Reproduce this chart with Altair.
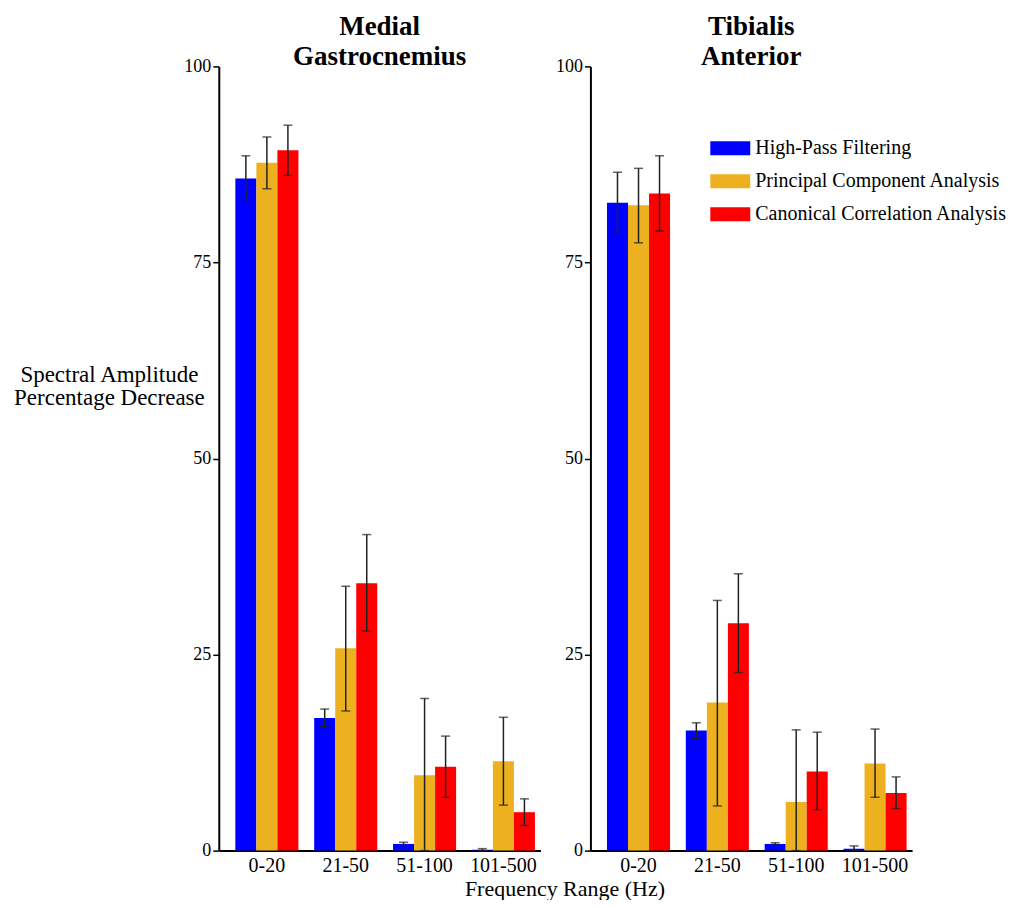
import altair as alt
import pandas as pd

categories = ["0-20", "21-50", "51-100", "101-500"]
methods = ["High-Pass Filtering", "Principal Component Analysis", "Canonical Correlation Analysis"]
colors = ["#0000FF", "#EDB120", "#FF0000"]

# Medial Gastrocnemius
mg_hpf = [85.7, 16.9, 0.85, 0.1]
mg_hpf_lo = [83.0, 15.8, 0.68, 0.0]
mg_hpf_hi = [88.6, 18.05, 1.06, 0.25]
mg_pca = [87.7, 25.8, 9.6, 11.4]
mg_pca_lo = [84.4, 17.8, 0.0, 5.8]
mg_pca_hi = [91.0, 33.7, 19.4, 17.0]
mg_cca = [89.3, 34.1, 10.7, 4.9]
mg_cca_lo = [86.1, 28.0, 6.8, 3.2]
mg_cca_hi = [92.5, 40.3, 14.6, 6.6]

# Tibialis Anterior
ta_hpf = [82.6, 15.3, 0.85, 0.25]
ta_hpf_lo = [78.7, 14.3, 0.7, 0.0]
ta_hpf_hi = [86.5, 16.3, 1.0, 0.6]
ta_pca = [82.3, 18.9, 6.2, 11.1]
ta_pca_lo = [77.5, 5.7, 0.0, 6.8]
ta_pca_hi = [87.0, 31.9, 15.4, 15.5]
ta_cca = [83.8, 29.0, 10.1, 7.35]
ta_cca_lo = [79.0, 22.7, 5.2, 5.35]
ta_cca_hi = [88.6, 35.3, 15.1, 9.4]

FONT = "Liberation Serif"


def build_df(series):
    rows = []
    for m, (vals, lo, hi) in zip(methods, series):
        for c, v, l, h in zip(categories, vals, lo, hi):
            rows.append({"cat": c, "method": m, "val": v, "lo": l, "hi": h})
    return pd.DataFrame(rows)


mg_df = build_df([(mg_hpf, mg_hpf_lo, mg_hpf_hi), (mg_pca, mg_pca_lo, mg_pca_hi), (mg_cca, mg_cca_lo, mg_cca_hi)])
ta_df = build_df([(ta_hpf, ta_hpf_lo, ta_hpf_hi), (ta_pca, ta_pca_lo, ta_pca_hi), (ta_cca, ta_cca_lo, ta_cca_hi)])


def panel(df, title, first):
    base = alt.Chart(df)
    if first:
        xaxis = alt.Axis(title="Frequency Range (Hz)", titleX=346, titleY=38, titleBaseline="middle",
                         titleFontSize=22, titleFontWeight="normal", titleColor="black")
        yaxis = alt.Axis(title=["Spectral Amplitude", "Percentage Decrease"], titleAngle=0, titleAlign="center",
                         titleBaseline="middle", titleX=-110, titleY=308, titleLineHeight=23,
                         titleFontSize=23, titleFontWeight="normal", titleColor="black",
                         values=[0, 25, 50, 75, 100])
        legend = None
    else:
        xaxis = alt.Axis(title=None)
        yaxis = alt.Axis(title=None, values=[0, 25, 50, 75, 100])
        legend = alt.Legend(title=None, orient="none", legendX=120, legendY=62,
                            symbolType="M-1,-0.35L1,-0.35L1,0.35L-1,0.35Z", symbolSize=1600,
                            symbolStrokeWidth=0, labelFontSize=20, labelColor="black",
                            rowPadding=3, labelOffset=5, labelFont=FONT, labelLimit=0)
    x = alt.X("cat:N", sort=categories,
              scale=alt.Scale(domain=categories, paddingInner=0.2, paddingOuter=0.14, align=0.75),
              axis=xaxis)
    xo = alt.XOffset("method:N", sort=methods, scale=alt.Scale(domain=methods, paddingInner=0, paddingOuter=0))
    y = alt.Y("val:Q", scale=alt.Scale(domain=[0, 100], nice=False), axis=yaxis)
    bars = base.mark_bar().encode(
        x=x, xOffset=xo, y=y,
        color=alt.Color("method:N", sort=methods, scale=alt.Scale(domain=methods, range=colors), legend=legend),
    )
    rules = base.mark_rule(color="#222222", strokeWidth=1.5).encode(
        x=x, xOffset=xo, y=alt.Y("lo:Q"), y2="hi:Q")
    cap_hi = base.mark_tick(color="#222222", thickness=1.5, size=9, orient="horizontal").encode(
        x=x, xOffset=xo, y=alt.Y("hi:Q"))
    cap_lo = base.mark_tick(color="#222222", thickness=1.5, size=9, orient="horizontal").encode(
        x=x, xOffset=xo, y=alt.Y("lo:Q"))
    return alt.layer(bars, rules, cap_hi, cap_lo).properties(
        width=322, height=785,
        title=alt.TitleParams(title, fontSize=27, fontWeight="bold", font=FONT, lineHeight=30,
                              anchor="middle", offset=-14, color="black"),
    )


left = panel(mg_df, ["Medial", "Gastrocnemius"], True)
right = panel(ta_df, ["Tibialis", "Anterior"], False)

chart = alt.hconcat(left, right, spacing=50, bounds="flush").resolve_legend(color="independent").properties(
    padding={"left": 5, "top": 5, "right": 0, "bottom": 0}
).configure(
    font=FONT
).configure_view(stroke=None).configure_axis(
    grid=False, labelFont=FONT, titleFont=FONT, labelFontSize=18, labelColor="black",
    domainColor="black", domainWidth=2, tickColor="black", tickWidth=1.5, tickSize=6, labelPadding=2,
).configure_axisX(ticks=False, labelAngle=0, labelPadding=5, labelFontSize=20).configure_legend(labelFont=FONT)

chart.save("out.html", embed_options={"renderer": "svg", "actions": False})
